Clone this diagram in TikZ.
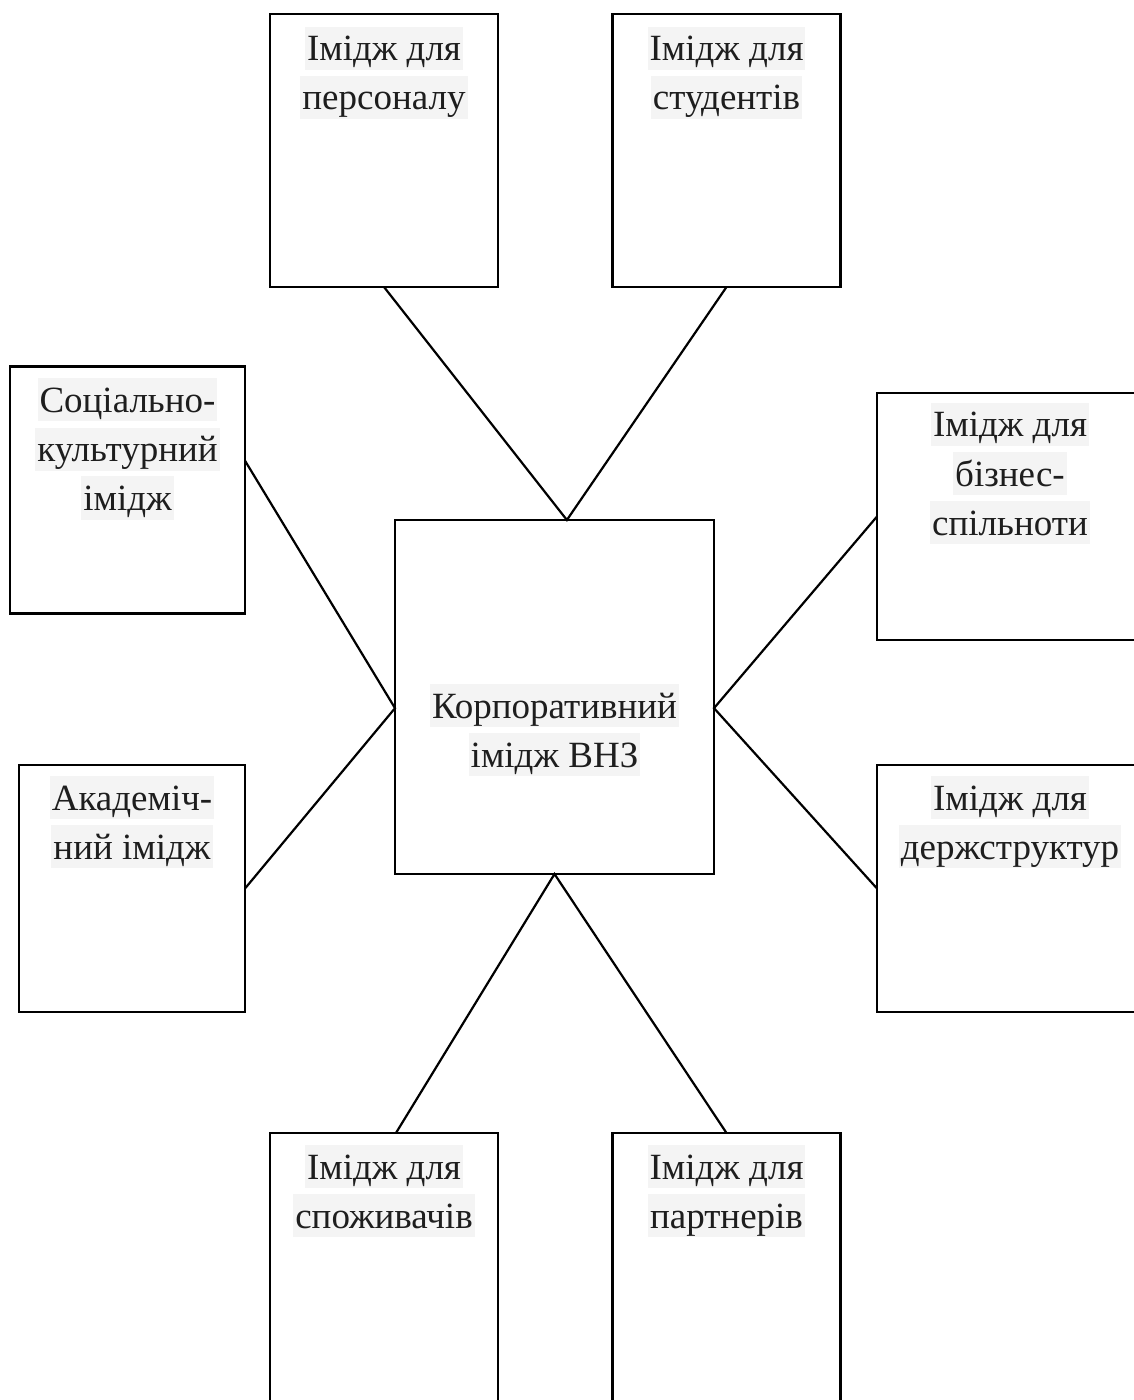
\documentclass[tikz,border=0pt]{standalone}
\usepackage{fontspec}
\setmainfont{Liberation Serif}
\usetikzlibrary{positioning}
\usepackage{xcolor}
\definecolor{hlgray}{HTML}{F4F4F4}
\definecolor{txtgray}{HTML}{1E1E1E}
\newcommand{\hl}[1]{{\setlength{\fboxsep}{0pt}\colorbox{hlgray}{\kern1pt\rule[-4.5pt]{0pt}{21.5pt}#1\kern1pt}}}

\begin{document}
\begin{tikzpicture}[x=0.5pt,y=-0.5pt,
    box/.style={draw, line width=1.2pt, inner sep=0pt, outer sep=0pt},
    tallbox/.style={box, minimum width=114pt, minimum height=136.5pt},
    sidebox/.style={box, minimum height=123.5pt},
    lbl/.style={inner sep=0pt, outer sep=0pt, align=center, text=txtgray,
      font=\fontsize{18.5}{24.5}\selectfont},
    link/.style={line width=1.1pt}]
  \useasboundingbox (0,0) rectangle (1133,1400);

  \node[box, minimum width=159.5pt, minimum height=177pt] (main) at (554.5,697) {};
  \node[lbl] (maintxt) at ([yshift=-16.5pt]main.center) {\hl{Корпоративний}\\\hl{імідж ВНЗ}};

  \node[tallbox] (pers) at (384,150.5) {};
  \node[tallbox] (stud) at (726.5,150.5) {};
  \node[tallbox] (spoz) at (384,1269.5) {};
  \node[tallbox] (part) at (726.5,1269.5) {};
  \node[sidebox, minimum width=117.5pt] (soc) at (127.5,490) {};
  \node[sidebox, minimum width=113pt] (acad) at (132,888.5) {};
  \node[sidebox, minimum width=133pt] (biz) at (1010,516.5) {};
  \node[sidebox, minimum width=133pt] (derzh) at (1010,888.5) {};

  \node[lbl, below=6.5pt of pers.north] (perstxt) {\hl{Імідж для}\\\hl{персоналу}};
  \node[lbl, below=6.5pt of stud.north] (studtxt) {\hl{Імідж для}\\\hl{студентів}};
  \node[lbl, below=6pt of spoz.north] (spoztxt) {\hl{Імідж для}\\\hl{споживачів}};
  \node[lbl, below=6pt of part.north] (parttxt) {\hl{Імідж для}\\\hl{партнерів}};
  \node[lbl, below=6pt of soc.north] (soctxt) {\hl{Соціально-}\\\hl{культурний}\\\hl{імідж}};
  \node[lbl, below=5.5pt of acad.north] (acadtxt) {\hl{Академіч-}\\\hl{ний імідж}};
  \node[lbl, below=5pt of biz.north] (biztxt) {\hl{Імідж для}\\\hl{бізнес-}\\\hl{спільноти}};
  \node[lbl, below=5.5pt of derzh.north] (derzhtxt) {\hl{Імідж для}\\\hl{держструктур}};

  \draw[link] (pers.south) -- (main.86) -- (stud.south);
  \draw[link] (soc.14) -- (main.184) -- (acad.east);
  \draw[link] (biz.west) -- (main.356) -- (derzh.west);
  \draw[link] (spoz.85) -- (main.south) -- (part.north);
\end{tikzpicture}
\end{document}
